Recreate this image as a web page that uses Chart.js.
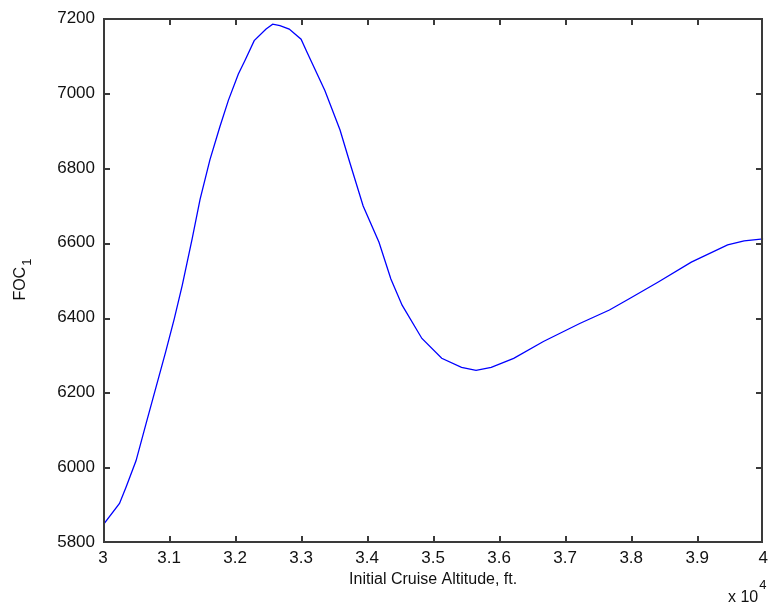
<!DOCTYPE html>
<html>
<head>
<meta charset="utf-8">
<script src="https://cdn.jsdelivr.net/npm/chart.js@4.4.1/dist/chart.umd.min.js"></script>
<style>
  html, body { margin: 0; padding: 0; background: #fff; }
  #wrap { width: 774px; height: 607px; }
</style>
</head>
<body>
<div id="wrap"><canvas id="foc-chart" width="774" height="607"></canvas></div>
<script>
// initial cruise altitude (ft) and resulting FOC1
const altitudes = [
    30000, 30250, 30350, 30500, 30650, 30800, 30950, 31080, 31200, 31350,
    31470, 31620, 31770, 31900, 32050, 32150, 32290, 32470, 32570, 32680,
    32820, 33000, 33090, 33360, 33590, 33740, 33940, 34180, 34360, 34530,
    34830, 35130, 35430, 35650, 35880, 36220, 36670, 37220, 37670, 37970,
    38410, 38910, 39460, 39710, 40000
];
const foc = [
    5845, 5903, 5947, 6017, 6115, 6212, 6309, 6397, 6486, 6610,
    6716, 6822, 6910, 6981, 7051, 7087, 7140, 7171, 7184, 7180,
    7171, 7144, 7109, 7007, 6901, 6813, 6698, 6601, 6503, 6433,
    6344, 6291, 6267, 6259, 6267, 6291, 6336, 6384, 6420, 6450,
    6495, 6548, 6594, 6605, 6610
];

const xMin = 30000, xMax = 40000, xStep = 1000;
const yMin = 5800, yMax = 7200, yStep = 200;

const FONT = "'Liberation Sans', Arial, Helvetica, sans-serif";

// box, inward ticks on all four sides, axis labels and the exponent
const matlabAxes = {
    id: 'matlabAxes',
    afterDraw(chart) {
        const { ctx, chartArea: a } = chart;
        const sx = chart.scales.x, sy = chart.scales.y;
        const tick = 6, lw = 2;
        const L = Math.round(a.left), R = Math.round(a.right) - 1;
        const T = Math.round(a.top), B = Math.round(a.bottom);
        ctx.save();
        ctx.fillStyle = '#3a3a3a';
        // frame
        ctx.fillRect(L, T, R - L + 1, lw);
        ctx.fillRect(L, B - lw + 1, R - L + 1, lw);
        ctx.fillRect(L, T, lw, B - T + 1);
        ctx.fillRect(R - lw + 1, T, lw, B - T + 1);
        // inward ticks
        for (let v = xMin; v <= xMax; v += xStep) {
            const px = Math.min(Math.round(sx.getPixelForValue(v)), R - 1);
            ctx.fillRect(px, B - tick, lw, tick);
            ctx.fillRect(px, T + 1, lw, tick);
        }
        for (let v = yMin; v <= yMax; v += yStep) {
            const py = Math.min(Math.round(sy.getPixelForValue(v)), B - 1);
            ctx.fillRect(L + 1, py, tick, lw);
            ctx.fillRect(R - tick, py, tick, lw);
        }

        ctx.fillStyle = '#111';
        // x label
        ctx.font = '16px ' + FONT;
        ctx.textAlign = 'center';
        ctx.textBaseline = 'alphabetic';
        ctx.fillText('Initial Cruise Altitude, ft.', (a.left + a.right) / 2, 584);

        // x exponent
        ctx.textAlign = 'left';
        const xw = ctx.measureText('x 10').width;
        ctx.fillText('x 10', 728, 602);
        ctx.font = '13px ' + FONT;
        ctx.fillText('4', 728 + xw + 1, 589);

        // y label with subscript
        ctx.translate(25, (a.top + a.bottom) / 2);
        ctx.rotate(-Math.PI / 2);
        ctx.font = '16px ' + FONT;
        const w = ctx.measureText('FOC').width;
        ctx.font = '13px ' + FONT;
        const ws = ctx.measureText('1').width;
        const start = -(w + ws) / 2;
        ctx.font = '16px ' + FONT;
        ctx.fillText('FOC', start, 0);
        ctx.font = '13px ' + FONT;
        ctx.fillText('1', start + w + 1, 6);
        ctx.restore();
    }
};

new Chart(document.getElementById('foc-chart').getContext('2d'), {
    type: 'line',
    data: {
        datasets: [{
            data: altitudes.map((a, i) => ({ x: a, y: foc[i] })),
            borderColor: '#0000ff',
            borderWidth: 1.3,
            pointRadius: 0,
            tension: 0,
            fill: false
        }]
    },
    options: {
        responsive: false,
        animation: false,
        devicePixelRatio: 1,
        layout: { padding: { top: 14, right: 1, left: 0, bottom: 0 } },
        plugins: {
            legend: { display: false },
            tooltip: { enabled: false }
        },
        scales: {
            x: {
                type: 'linear',
                min: xMin,
                max: xMax,
                border: { display: false },
                grid: { display: false, drawTicks: false },
                ticks: {
                    stepSize: xStep,
                    padding: 6,
                    color: '#111',
                    font: { family: FONT, size: 17 },
                    maxRotation: 0,
                    callback: v => String(Math.round(v / 100) / 100)
                },
                afterFit: s => { s.height = 65; }
            },
            y: {
                min: yMin,
                max: yMax,
                border: { display: false },
                grid: { display: false, drawTicks: false },
                ticks: {
                    stepSize: yStep,
                    padding: 8,
                    color: '#111',
                    font: { family: FONT, size: 17 },
                    callback: v => String(v)
                },
                afterFit: s => { s.width = 103; }
            }
        }
    },
    plugins: [matlabAxes]
});
</script>
</body>
</html>
